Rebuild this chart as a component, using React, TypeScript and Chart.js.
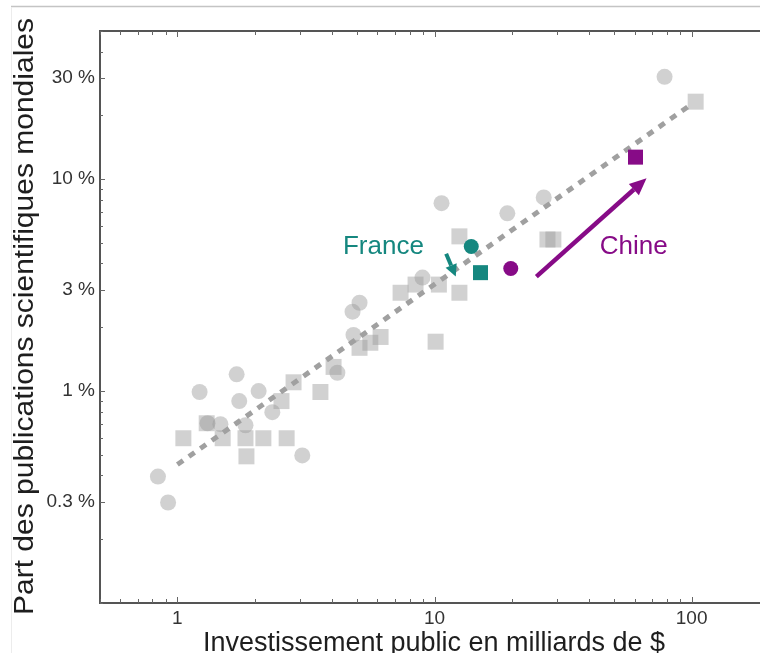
import { useEffect, useRef } from 'react';
import { Chart, registerables } from 'chart.js';

Chart.register(...registerables);

// Public R&D investment (billions of $) vs. share of world scientific publications (%)
const circleInvest = [0.84, 0.92, 1.22, 1.31, 1.47, 1.70, 1.74, 1.84, 2.07, 2.34, 3.06, 4.19, 4.80, 4.84, 5.11, 8.98, 10.65, 19.2, 26.6, 78.5];
const circleShare = [0.395, 0.298, 0.99, 0.705, 0.698, 1.20, 0.897, 0.69, 1.0, 0.795, 0.497, 1.22, 2.37, 1.84, 2.61, 3.43, 7.7, 6.9, 8.2, 30.4];

const squareInvest = [1.055, 1.30, 1.50, 1.84, 1.856, 2.16, 2.66, 2.54, 2.83, 3.60, 4.05, 5.11, 5.63, 6.17, 7.38, 8.44, 10.4, 12.5, 10.1, 12.5, 27.5, 29.0, 103.7];
const squareShare = [0.599, 0.705, 0.599, 0.599, 0.492, 0.599, 0.599, 0.897, 1.10, 0.99, 1.30, 1.60, 1.69, 1.80, 2.91, 3.18, 3.18, 2.91, 1.71, 5.37, 5.19, 5.19, 23.2];

// France and China: circle then square
const franceInvest = [13.9, 15.1];
const franceShare = [4.81, 3.62];
const chinaInvest = [19.8, 60.5];
const chinaShare = [3.79, 12.7];

// Fitted trend (log-log)
const trendInvest = [1, 97];
const trendShare = [0.45, 22];

// Arrows [fromX, fromY, toX, toY]
const franceArrow = [11.1, 4.45, 12.1, 3.47];
const chinaArrow = [24.9, 3.47, 66.8, 10.1];

// Label anchors (centre x, baseline y)
const franceLabel = { text: 'France', x: 6.33, y: 4.41 };
const chinaLabel = { text: 'Chine', x: 59.5, y: 4.41 };

const yLabelValues = [0.3, 1, 3, 10, 30];
const yLabelText = ['0.3 %', '1 %', '3 %', '10 %', '30 %'];
const xLabelValues = [1, 10, 100];
const xLabelText = ['1', '10', '100'];

const xTitle = 'Investissement public en milliards de $';
const yTitle = 'Part des publications scientifiques mondiales';

const X_MIN = 0.5;
const X_MAX = 200;
const Y_MIN = 0.1;
const Y_MAX = 50;

const FONT = "'Liberation Sans', Arial, Helvetica, sans-serif";
const TEAL = '#15877f';
const PURPLE = '#870b87';
const GRAY = 'rgba(155,155,155,0.46)';

const near = (a: number, b: number) => Math.abs(a - b) <= Math.abs(b) * 1e-6;

function logTicks(min: number, max: number): number[] {
  const out: number[] = [];
  for (let e = -2; e <= 3; e++) {
    for (let m = 1; m <= 9; m++) {
      const v = parseFloat((m * Math.pow(10, e)).toPrecision(6));
      if (v >= min - 1e-9 && v <= max + 1e-9) out.push(v);
    }
  }
  return out;
}

const xTickValues = logTicks(X_MIN, X_MAX);
const yTickValues = logTicks(Y_MIN, Y_MAX);

const pts = (xs: number[], ys: number[]) => xs.map((x, i) => ({ x, y: ys[i] }));

function drawArrow(ctx: CanvasRenderingContext2D, x1: number, y1: number, x2: number, y2: number, color: string, width: number, headLen: number, headW: number) {
  const ang = Math.atan2(y2 - y1, x2 - x1);
  const bx = x2 - headLen * Math.cos(ang);
  const by = y2 - headLen * Math.sin(ang);
  ctx.save();
  ctx.strokeStyle = color;
  ctx.fillStyle = color;
  ctx.lineWidth = width;
  ctx.lineCap = 'butt';
  ctx.beginPath();
  ctx.moveTo(x1, y1);
  ctx.lineTo(bx, by);
  ctx.stroke();
  ctx.beginPath();
  ctx.moveTo(x2, y2);
  ctx.lineTo(bx + (headW / 2) * Math.sin(ang), by - (headW / 2) * Math.cos(ang));
  ctx.lineTo(bx - (headW / 2) * Math.sin(ang), by + (headW / 2) * Math.cos(ang));
  ctx.closePath();
  ctx.fill();
  ctx.restore();
}

const framePlugin = {
  id: 'frameAndNotes',
  beforeDatasetsDraw(chart: any) {
    const { ctx, chartArea, scales } = chart;
    const { left, top, bottom, right } = chartArea;
    const xs = scales.x;
    const ys = scales.y;
    ctx.save();
    // faint page border
    ctx.strokeStyle = '#c4c4c4';
    ctx.lineWidth = 1.5;
    ctx.beginPath();
    ctx.moveTo(11, 6.5);
    ctx.lineTo(chart.width, 6.5);
    ctx.stroke();
    ctx.strokeStyle = '#ececec';
    ctx.lineWidth = 1;
    ctx.beginPath();
    ctx.moveTo(11.5, 7);
    ctx.lineTo(11.5, chart.height);
    ctx.stroke();

    // open frame: left, bottom and top edges
    ctx.strokeStyle = '#555';
    ctx.lineWidth = 2;
    ctx.beginPath();
    ctx.moveTo(right, top);
    ctx.lineTo(left, top);
    ctx.lineTo(left, bottom);
    ctx.lineTo(right, bottom);
    ctx.stroke();

    // inward tick marks
    ctx.lineWidth = 1;
    ctx.strokeStyle = '#666';
    ctx.beginPath();
    xs.ticks.forEach((t: any) => {
      const px = Math.round(xs.getPixelForValue(t.value)) + 0.5;
      const len = xLabelValues.some((v) => near(t.value, v)) ? 6 : 4;
      ctx.moveTo(px, bottom);
      ctx.lineTo(px, bottom - len);
      ctx.moveTo(px, top);
      ctx.lineTo(px, top + len);
    });
    ys.ticks.forEach((t: any) => {
      const py = Math.round(ys.getPixelForValue(t.value)) + 0.5;
      const len = yLabelValues.some((v) => near(t.value, v)) ? 5 : 3;
      ctx.moveTo(left, py);
      ctx.lineTo(left + len, py);
    });
    ctx.stroke();
    ctx.restore();
  },
  afterDatasetsDraw(chart: any) {
    const { ctx, scales } = chart;
    const xs = scales.x;
    const ys = scales.y;
    const X = (v: number) => xs.getPixelForValue(v);
    const Y = (v: number) => ys.getPixelForValue(v);

    drawArrow(ctx, X(franceArrow[0]), Y(franceArrow[1]), X(franceArrow[2]), Y(franceArrow[3]), TEAL, 4, 12, 12);
    drawArrow(ctx, X(chinaArrow[0]), Y(chinaArrow[1]), X(chinaArrow[2]), Y(chinaArrow[3]), PURPLE, 4.5, 17, 15);

    ctx.save();
    ctx.font = `26px ${FONT}`;
    ctx.textAlign = 'center';
    ctx.textBaseline = 'alphabetic';
    ctx.fillStyle = TEAL;
    ctx.fillText(franceLabel.text, X(franceLabel.x), Y(franceLabel.y));
    ctx.fillStyle = PURPLE;
    ctx.fillText(chinaLabel.text, X(chinaLabel.x), Y(chinaLabel.y));
    ctx.restore();
  },
  afterDraw(chart: any) {
    const { ctx } = chart;
    ctx.save();
    ctx.fillStyle = '#1e1e1e';
    ctx.font = `27px ${FONT}`;
    ctx.textAlign = 'center';
    ctx.textBaseline = 'alphabetic';
    ctx.fillText(xTitle, 434, 651);

    // y title, stretched along its length
    const w = ctx.measureText(yTitle).width;
    const target = 597;
    ctx.translate(33, 316.5);
    ctx.rotate(-Math.PI / 2);
    ctx.scale(target / w, 1);
    ctx.fillText(yTitle, 0, 0);
    ctx.restore();
  },
};

export default function App() {
  const canvasRef = useRef<HTMLCanvasElement | null>(null);

  useEffect(() => {
    const canvas = canvasRef.current;
    if (!canvas) return;
    const chart = new Chart(canvas, {
      type: 'scatter',
      data: {
        datasets: [
          {
            label: 'pays',
            data: pts(circleInvest, circleShare),
            pointStyle: 'circle',
            pointRadius: 8,
            backgroundColor: GRAY,
            borderWidth: 0,
            order: 5,
          },
          {
            label: 'pays (carré)',
            data: pts(squareInvest, squareShare),
            pointStyle: 'rect',
            pointRadius: 11.3,
            backgroundColor: GRAY,
            borderWidth: 0,
            order: 5,
          },
          {
            type: 'line',
            label: 'tendance',
            data: pts(trendInvest, trendShare),
            showLine: true,
            borderColor: '#a0a0a0',
            borderWidth: 5,
            borderDash: [7, 7],
            pointRadius: 0,
            fill: false,
            order: 3,
          } as any,
          {
            label: 'France',
            data: pts(franceInvest, franceShare),
            pointStyle: ['circle', 'rect'],
            pointRadius: [7.5, 10.6],
            backgroundColor: TEAL,
            borderWidth: 0,
            order: 1,
          } as any,
          {
            label: 'Chine',
            data: pts(chinaInvest, chinaShare),
            pointStyle: ['circle', 'rect'],
            pointRadius: [7.5, 10.6],
            backgroundColor: PURPLE,
            borderWidth: 0,
            order: 1,
          } as any,
        ],
      },
      options: {
        animation: false,
        responsive: false,
        maintainAspectRatio: false,
        layout: { autoPadding: false, padding: { top: 31, left: 0, right: 0, bottom: 0 } },
        plugins: {
          legend: { display: false },
          tooltip: { enabled: false },
        },
        scales: {
          x: {
            type: 'logarithmic',
            position: 'bottom',
            min: X_MIN,
            max: X_MAX,
            grid: { display: false, drawTicks: false },
            border: { display: false },
            afterBuildTicks: (scale: any) => {
              scale.ticks = xTickValues.map((v) => ({ value: v }));
            },
            afterFit: (scale: any) => {
              scale.height = 50;
              scale.paddingLeft = 0;
              scale.paddingRight = 0;
            },
            ticks: {
              autoSkip: false,
              maxRotation: 0,
              padding: 4,
              color: '#333',
              font: { family: FONT, size: 19 },
              callback: (value: any) => {
                const i = xLabelValues.findIndex((v) => near(Number(value), v));
                return i >= 0 ? xLabelText[i] : '';
              },
            },
          },
          y: {
            type: 'logarithmic',
            position: 'left',
            min: Y_MIN,
            max: Y_MAX,
            grid: { display: false, drawTicks: false },
            border: { display: false },
            afterBuildTicks: (scale: any) => {
              scale.ticks = yTickValues.map((v) => ({ value: v }));
            },
            afterFit: (scale: any) => {
              scale.width = 100;
              scale.paddingTop = 0;
              scale.paddingBottom = 0;
            },
            ticks: {
              autoSkip: false,
              padding: 5,
              color: '#333',
              font: { family: FONT, size: 19 },
              callback: (value: any) => {
                const i = yLabelValues.findIndex((v) => near(Number(value), v));
                return i >= 0 ? yLabelText[i] : '';
              },
            },
          },
        },
      },
      plugins: [framePlugin],
    });
    return () => chart.destroy();
  }, []);

  return (
    <div
      style={{
        position: 'fixed',
        left: 0,
        top: 0,
        width: 760,
        height: 653,
        overflow: 'hidden',
        background: '#fff',
      }}
    >
      <canvas ref={canvasRef} width={769} height={653} style={{ width: 769, height: 653, display: 'block' }} />
    </div>
  );
}
